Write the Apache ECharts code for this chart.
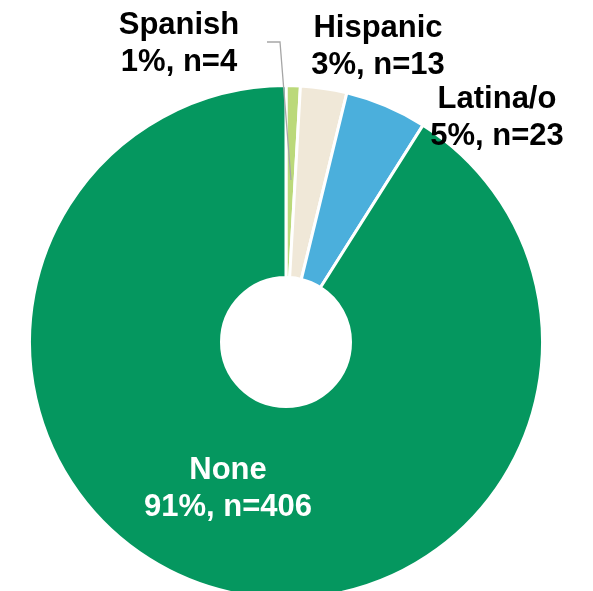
<!DOCTYPE html>
<html>
<head>
<meta charset="utf-8">
<script src="https://cdn.jsdelivr.net/npm/echarts@6/dist/echarts.min.js"></script>
<style>
html,body{margin:0;padding:0;background:#fff;}
#chart{width:593px;height:591px;}
</style>
</head>
<body>
<div id="chart"></div>
<script>
const categories = ['Spanish', 'Hispanic', 'Latina/o', 'None'];
const counts = [4, 13, 23, 406];
const colors = ['#BBD97A', '#F0E8D8', '#4BAFDC', '#05975F'];
const labelColors = ['#000', '#000', '#000', '#fff'];
// label anchor positions (layout only)
const labelPos = [[179, 44], [378, 47], [497, 118], [228, 489]];

const total = counts.reduce((a, b) => a + b, 0);
const sliceData = categories.map((c, i) => ({
  name: c,
  value: counts[i],
  itemStyle: { color: colors[i] }
}));
const labelData = categories.map((c, i) => ({
  name: c,
  value: counts[i],
  label: { color: labelColors[i] },
  labelLine: { show: i === 0, lineStyle: { color: '#A6A6A6', width: 1.3 } }
}));

const common = {
  type: 'pie',
  center: [286, 342],
  radius: [64.5, 256.5],
  startAngle: 90,
  clockwise: true,
  avoidLabelOverlap: false,
  silent: true
};

const chart = echarts.init(document.getElementById('chart'), null, { renderer: 'canvas' });
chart.setOption({
  animation: false,
  backgroundColor: '#fff',
  series: [
    Object.assign({}, common, {
      z: 2,
      itemStyle: { borderColor: '#fff', borderWidth: 3 },
      label: { show: false },
      labelLine: { show: false },
      data: sliceData
    }),
    Object.assign({}, common, {
      z: 5,
      itemStyle: { color: 'rgba(0,0,0,0)', borderWidth: 0 },
      label: {
        show: true,
        position: 'outside',
        fontFamily: 'Liberation Sans, Arial, sans-serif',
        fontWeight: 'bold',
        fontSize: 31,
        lineHeight: 37,
        align: 'center',
        formatter: p => p.name + '\n' + Math.round(p.value / total * 100) + '%, n=' + p.value
      },
      labelLine: { show: true, length: 10, length2: 10 },
      labelLayout: function (params) {
        const i = params.dataIndex;
        const res = { x: labelPos[i][0], y: labelPos[i][1], align: 'center', verticalAlign: 'middle' };
        if (i === 0) {
          res.labelLinePoints = [[291, 180], [280, 42], [267, 42]];
        }
        return res;
      },
      data: labelData
    })
  ]
});
</script>
</body>
</html>
